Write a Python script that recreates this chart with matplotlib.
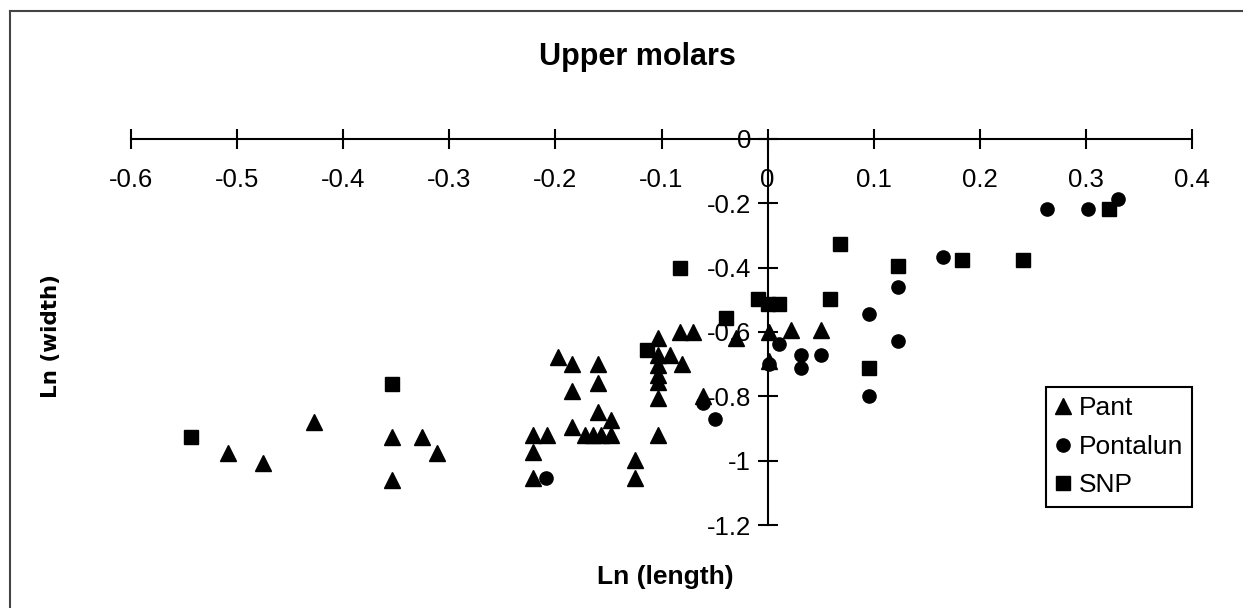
import matplotlib
matplotlib.use("Agg")
from matplotlib import pyplot as plt
from matplotlib.lines import Line2D

plt.rcParams['font.family'] = ['Liberation Sans', 'DejaVu Sans']

# Ln(length), Ln(width)
pant_x = [-0.509, -0.476, -0.428, -0.354, -0.326, -0.312, -0.354,
          -0.198, -0.184, -0.160, -0.184, -0.160, -0.160, -0.148, -0.184,
          -0.172, -0.165, -0.157, -0.148, -0.221, -0.208, -0.221, -0.221,
          -0.125, -0.125, -0.103, -0.103,
          -0.103, -0.103, -0.103, -0.103, -0.103, -0.092, -0.081, -0.083, -0.070,
          -0.061, -0.030, 0.001, 0.022, 0.050, 0.001]
pant_y = [-0.977, -1.006, -0.879, -0.925, -0.925, -0.975, -1.059,
          -0.677, -0.698, -0.698, -0.782, -0.760, -0.848, -0.873, -0.896,
          -0.920, -0.920, -0.920, -0.920, -0.920, -0.920, -0.972, -1.054,
          -0.997, -1.054, -0.920, -0.806,
          -0.620, -0.672, -0.703, -0.734, -0.754, -0.672, -0.698, -0.600, -0.600,
          -0.800, -0.620, -0.600, -0.594, -0.594, -0.690]

pontalun_x = [-0.209, -0.061, -0.050, 0.011, 0.031, 0.031, 0.050, 0.001,
              0.096, 0.096, 0.123, 0.123, 0.165, 0.263, 0.302, 0.330]
pontalun_y = [-1.054, -0.820, -0.870, -0.636, -0.670, -0.713, -0.672, -0.700,
              -0.543, -0.798, -0.460, -0.628, -0.367, -0.217, -0.217, -0.188]

snp_x = [-0.543, -0.354, -0.083, -0.114, -0.009, 0.000, 0.011, -0.039,
         0.068, 0.059, 0.123, 0.096, 0.183, 0.241, 0.322]
snp_y = [-0.925, -0.762, -0.401, -0.656, -0.496, -0.512, -0.512, -0.558,
         -0.326, -0.496, -0.396, -0.711, -0.377, -0.377, -0.217]

xticks = [-0.6, -0.5, -0.4, -0.3, -0.2, -0.1, 0, 0.1, 0.2, 0.3, 0.4]
xtick_labels = ['-0.6', '-0.5', '-0.4', '-0.3', '-0.2', '-0.1', '0', '0.1', '0.2', '0.3', '0.4']
yticks = [0, -0.2, -0.4, -0.6, -0.8, -1, -1.2]
ytick_labels = ['0', '-0.2', '-0.4', '-0.6', '-0.8', '-1', '-1.2']

fig = plt.figure(figsize=(12.43, 6.08), dpi=100)
ax = fig.add_axes([0.1054, 0.1365, 0.8536, 0.6349])

ax.plot(pant_x, pant_y, '^', color='black', ms=11, label='Pant', clip_on=False)
ax.plot(pontalun_x, pontalun_y, 'o', color='black', ms=9.5, label='Pontalun', clip_on=False)
ax.plot(snp_x, snp_y, 's', color='black', ms=9.5, label='SNP', clip_on=False)

ax.set_xlim(-0.6, 0.4)
ax.set_ylim(-1.2, 0)

# axes cross at the origin, like the Excel original
ax.spines['left'].set_position(('data', 0))
ax.spines['bottom'].set_position(('data', 0))
ax.spines['top'].set_visible(False)
ax.spines['right'].set_visible(False)
for s in ['left', 'bottom']:
    ax.spines[s].set_linewidth(1.5)

ax.set_xticks(xticks)
ax.set_xticklabels(xtick_labels)
ax.set_yticks(yticks)
ax.set_yticklabels(ytick_labels)
ax.tick_params(direction='inout', length=14, width=1.5, labelsize=18.5)
ax.tick_params(axis='x', pad=14)
ax.tick_params(axis='y', pad=5)

leg = ax.legend(loc='upper left', bbox_to_anchor=(0.862, 0.357), fontsize=19,
                frameon=True, fancybox=False, edgecolor='black', framealpha=1,
                handlelength=0.6, handletextpad=0.3, labelspacing=0.55,
                borderpad=0.35, borderaxespad=0)
leg.get_frame().set_linewidth(1.5)

fig.text(0.513, 0.907, 'Upper molars', fontsize=22, fontweight='bold',
         ha='center', va='center')
fig.text(0.535, 0.051, 'Ln (length)', fontsize=19, fontweight='bold',
         ha='center', va='center')
fig.text(0.041, 0.447, 'Ln (width)', fontsize=15.5, fontweight='bold',
         family='DejaVu Sans', rotation=90, ha='center', va='center')

# page border from the scan
fig.add_artist(Line2D([0.008, 0.008], [0, 0.982], transform=fig.transFigure,
                      color='#444444', lw=1.5))
fig.add_artist(Line2D([0.008, 1], [0.982, 0.982], transform=fig.transFigure,
                      color='#444444', lw=1.5))

fig.savefig('out.png', dpi=100)
